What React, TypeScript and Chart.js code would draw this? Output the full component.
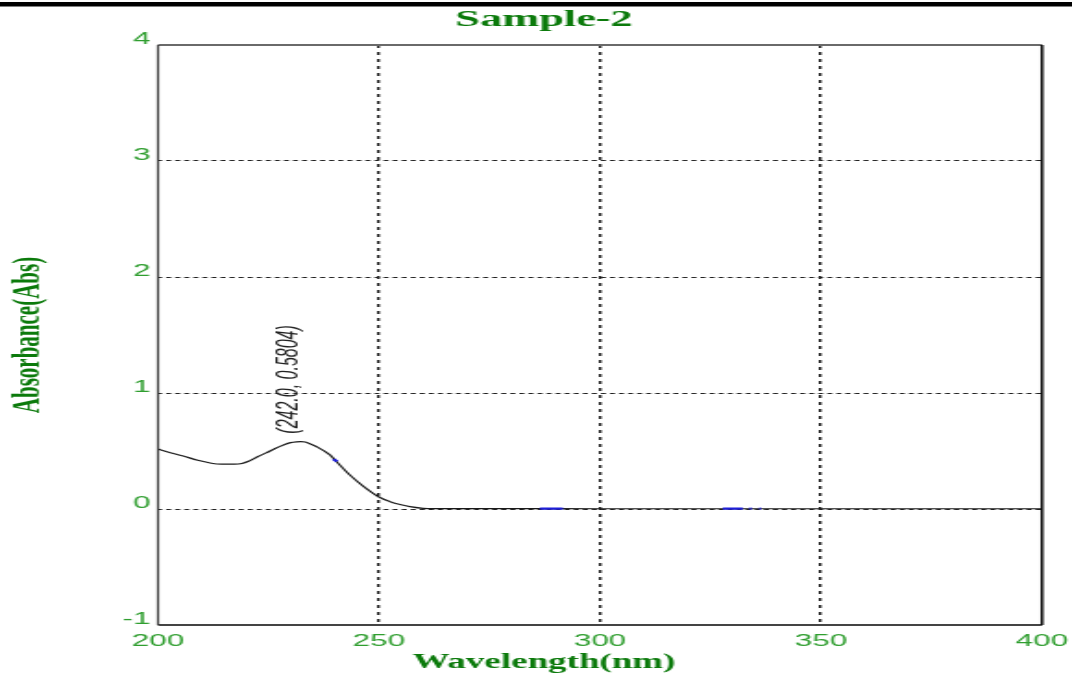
import { useEffect, useRef } from 'react';
import { Chart, registerables } from 'chart.js';

Chart.register(...registerables);

// Absorbance scan: wavelength (nm) and absorbance (Abs)
const wavelengths = [
  200, 202, 205.7, 209, 211.8, 213.3, 216, 218.2, 220.8, 222.5, 224.6, 226.5,
  228.4, 230, 231.4, 232.3, 233.3, 234.5, 235.9, 238.9, 240.4, 243.4, 246.4,
  250.1, 252.5, 255, 257, 260, 266, 280, 300, 340, 400,
];
const peakWavelength = 242.0;
const peakAbsorbance = 0.5804;
const absorbance = [
  0.517, 0.494, 0.457, 0.42, 0.397, 0.388, 0.386, 0.388, 0.417, 0.45, 0.486,
  0.522, 0.552, 0.572, 0.579, peakAbsorbance, 0.577, 0.56, 0.537, 0.466, 0.408,
  0.293, 0.198, 0.101, 0.063, 0.036, 0.02, 0.006, 0.003, 0.003, 0.002, 0.002,
  0.002,
];

// Short blue marker runs along the trace
const markerStart = [239.7, 286.4, 327.8, 333.8, 336.0];
const markerEnd = [240.5, 291.6, 332.3, 334.3, 336.4];
const markerStartAbs = [0.43, 0.003, 0.003, 0.003, 0.003];
const markerEndAbs = [0.41, 0.003, 0.003, 0.003, 0.003];

const xTicks = [200, 250, 300, 350, 400];
const yTicks = [-1, 0, 1, 2, 3, 4];

const chartTitle = 'Sample-2';
const xTitle = 'Wavelength(nm)';
const yTitle = 'Absorbance(Abs)';
const peakLabel = `(${peakWavelength.toFixed(1)}, ${peakAbsorbance.toFixed(4)})`;

// The drawing surface is rendered narrow and widened by CSS.
const CANVAS_W = 580;
const CANVAS_H = 678;
const DISPLAY_W = 1072;
const PAD_LEFT = 8.6;
const PLOT_LEFT = 85.48;
const PLOT_RIGHT_GAP = 16.23;

const TICK_GREEN = '#2f9e2f';
const TITLE_GREEN = '#0b7a0b';
const SERIF = "'Liberation Serif', 'Times New Roman', serif";
const SANS = "'Liberation Sans', Arial, sans-serif";

const frameAndNotes = {
  id: 'frameAndNotes',
  beforeDraw(chart: any) {
    const { ctx, width, height } = chart;
    ctx.save();
    ctx.fillStyle = '#ffffff';
    ctx.fillRect(0, 0, width, height);
    ctx.fillStyle = '#000000';
    ctx.fillRect(0, 2, width, 4.5);
    ctx.restore();
  },
  afterDatasetsDraw(chart: any) {
    const { ctx, chartArea } = chart;
    const { left, right, top, bottom } = chartArea;
    ctx.save();
    ctx.setLineDash([]);
    ctx.lineWidth = 2;
    ctx.strokeStyle = '#6a6a6a';
    ctx.beginPath();
    ctx.moveTo(left, top);
    ctx.lineTo(right, top);
    ctx.stroke();
    ctx.lineWidth = 1.8;
    ctx.strokeStyle = '#444444';
    ctx.beginPath();
    ctx.moveTo(left, bottom);
    ctx.lineTo(right, bottom);
    ctx.stroke();
    ctx.lineWidth = 1.2;
    ctx.strokeStyle = '#3c3c3c';
    ctx.beginPath();
    ctx.moveTo(left, top);
    ctx.lineTo(left, bottom);
    ctx.stroke();
    ctx.lineWidth = 1.6;
    ctx.strokeStyle = '#111111';
    ctx.beginPath();
    ctx.moveTo(right, top);
    ctx.lineTo(right, bottom);
    ctx.stroke();

    // peak annotation, anchored at the highest point of the trace
    const meta = chart.getDatasetMeta(0);
    let best = 0;
    absorbance.forEach((v, i) => {
      if (v > absorbance[best]) best = i;
    });
    const pt = meta.data[best];
    if (pt) {
      ctx.translate(pt.x - 2, pt.y - 8);
      ctx.rotate(-Math.PI / 2);
      ctx.font = `italic 16px ${SANS}`;
      ctx.fillStyle = '#222222';
      ctx.textAlign = 'left';
      ctx.textBaseline = 'alphabetic';
      ctx.fillText(peakLabel, 0, 0);
    }
    ctx.restore();
  },
};

function buildMarkerData() {
  const pts: { x: number; y: number | null }[] = [];
  markerStart.forEach((s, i) => {
    pts.push({ x: s, y: markerStartAbs[i] });
    pts.push({ x: markerEnd[i], y: markerEndAbs[i] });
    pts.push({ x: markerEnd[i] + 0.05, y: null });
  });
  return pts;
}

export default function App() {
  const canvasRef = useRef<HTMLCanvasElement>(null);

  useEffect(() => {
    document.body.style.margin = '0';
    const canvas = canvasRef.current;
    if (!canvas) return;

    const chart = new Chart(canvas, {
      type: 'line',
      data: {
        datasets: [
          {
            data: wavelengths.map((w, i) => ({ x: w, y: absorbance[i] })),
            borderColor: '#1a1a1a',
            borderWidth: 1.2,
            pointRadius: 0,
            cubicInterpolationMode: 'monotone',
            fill: false,
            order: 2,
          },
          {
            data: buildMarkerData(),
            borderColor: '#1f1fd8',
            borderWidth: 2.2,
            pointRadius: 0,
            spanGaps: false,
            fill: false,
            order: 1,
          },
        ],
      },
      plugins: [frameAndNotes],
      options: {
        responsive: false,
        animation: false,
        devicePixelRatio: 1,
        events: [],
        layout: { padding: { left: PAD_LEFT, right: 0, top: 0, bottom: 3 } },
        plugins: {
          legend: { display: false },
          tooltip: { enabled: false },
          title: {
            display: true,
            text: chartTitle,
            color: TITLE_GREEN,
            font: { family: SERIF, size: 24, weight: 'bold', lineHeight: 1.2 },
            padding: { top: 5.6, bottom: 10.6 },
          },
          subtitle: {
            display: true,
            position: 'bottom',
            text: xTitle,
            color: TITLE_GREEN,
            font: { family: SERIF, size: 20, weight: 'bold', lineHeight: 1.2 },
            padding: 0,
          },
        },
        scales: {
          x: {
            type: 'linear',
            min: 200,
            max: 400,
            afterBuildTicks: (scale: any) => {
              scale.ticks = xTicks.map((value) => ({ value }));
            },
            afterFit: (scale: any) => {
              scale.height = 26;
              scale.paddingLeft = 0;
              scale.paddingRight = PLOT_RIGHT_GAP;
            },
            ticks: {
              color: TICK_GREEN,
              font: { family: SANS, size: 17 },
              padding: 6,
              maxRotation: 0,
              autoSkip: false,
              callback: (v: any) => String(v),
            },
            grid: {
              drawTicks: false,
              lineWidth: 1.4,
              color: (ctx: any) =>
                ctx.tick && (ctx.tick.value === 200 || ctx.tick.value === 400)
                  ? 'rgba(0,0,0,0)'
                  : '#111111',
            },
            border: { display: false, dash: [3, 4] },
          },
          y: {
            type: 'linear',
            min: -1,
            max: 4,
            afterBuildTicks: (scale: any) => {
              scale.ticks = yTicks.map((value) => ({ value }));
            },
            afterFit: (scale: any) => {
              scale.width = PLOT_LEFT - PAD_LEFT;
            },
            ticks: {
              color: TICK_GREEN,
              font: { family: SANS, size: 17 },
              padding: 4,
              labelOffset: -6,
              autoSkip: false,
              callback: (v: any) => String(v),
            },
            grid: {
              drawTicks: false,
              lineWidth: 1,
              color: (ctx: any) =>
                ctx.tick && (ctx.tick.value === 4 || ctx.tick.value === -1)
                  ? 'rgba(0,0,0,0)'
                  : '#222222',
            },
            border: { display: false, dash: [2.7, 2.2] },
            title: {
              display: true,
              text: yTitle,
              color: TITLE_GREEN,
              font: { family: SERIF, size: 21, weight: 'bold', lineHeight: 0.66 },
              padding: 0,
            },
          },
        },
      },
    } as any);

    return () => chart.destroy();
  }, []);

  return (
    <div
      style={{
        position: 'fixed',
        left: 0,
        top: 0,
        width: DISPLAY_W,
        height: CANVAS_H,
        overflow: 'hidden',
        background: '#ffffff',
      }}
    >
      <canvas
        ref={canvasRef}
        width={CANVAS_W}
        height={CANVAS_H}
        style={{ width: `${DISPLAY_W}px`, height: `${CANVAS_H}px`, display: 'block' }}
      />
    </div>
  );
}
